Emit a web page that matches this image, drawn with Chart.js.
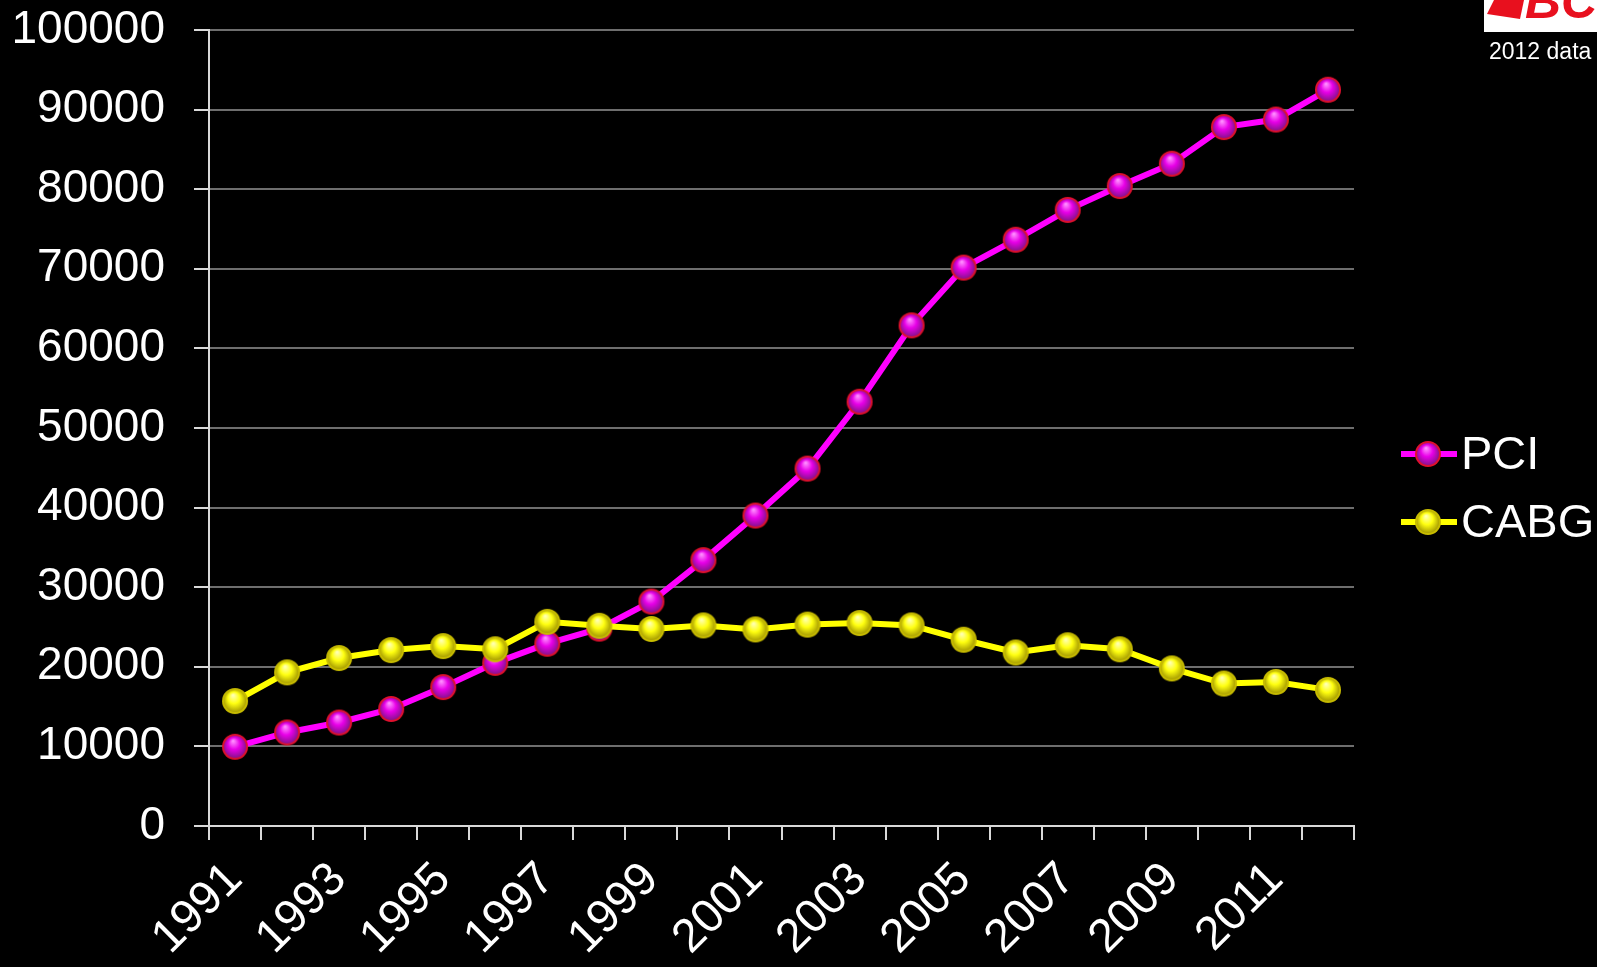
<!DOCTYPE html>
<html>
<head>
<meta charset="utf-8">
<title>PCI vs CABG</title>
<script src="https://cdn.jsdelivr.net/npm/chart.js@4.4.0/dist/chart.umd.min.js"></script>
<style>
  html, body { margin: 0; padding: 0; background: #000; }
  #wrap { width: 1597px; height: 967px; position: relative; }
</style>
</head>
<body>
<div id="wrap"><canvas id="chart" width="1597" height="967"></canvas></div>
<script>
// data
const years = ['1991', '1992', '1993', '1994', '1995', '1996', '1997', '1998', '1999', '2000', '2001',
  '2002', '2003', '2004', '2005', '2006', '2007', '2008', '2009', '2010', '2011', '2012'];
const pciValues = [9950, 11750, 13000, 14700, 17450, 20500, 22900, 24800, 28200, 33400, 39000,
  44900, 53300, 62900, 70150, 73650, 77400, 80400, 83200, 87800, 88750, 92500];
const cabgValues = [15700, 19300, 21100, 22100, 22600, 22200, 25650, 25150, 24750, 25200, 24700,
  25300, 25500, 25200, 23400, 21800, 22700, 22200, 19800, 17900, 18100, 17100];
const seriesNames = ['PCI', 'CABG'];
const yMin = 0;
const yMax = 100000;
const yStep = 10000;
const noteText = '2012 data';
const logoText = 'BCIS';

const FONT = '"Liberation Sans", Arial, sans-serif';

// shaded ball used as the point marker
function makeBall(r, rim, light, mid, dark) {
  const c = document.createElement('canvas');
  const size = r * 2 + 4;
  c.width = size;
  c.height = size;
  const g = c.getContext('2d');
  const cx = size / 2, cy = size / 2;
  g.beginPath();
  g.arc(cx, cy, r, 0, Math.PI * 2);
  g.fillStyle = rim;
  g.fill();
  const grad = g.createRadialGradient(cx - r * 0.15, cy - r * 0.45, r * 0.05, cx, cy, r * 0.95);
  grad.addColorStop(0, light);
  grad.addColorStop(0.45, mid);
  grad.addColorStop(1, dark);
  g.beginPath();
  g.arc(cx, cy, r - 2, 0, Math.PI * 2);
  g.fillStyle = grad;
  g.fill();
  return c;
}

const pciBall = makeBall(13, '#e0102e', '#ff8cff', '#e800e8', '#7a1580');
const cabgBall = makeBall(13, '#c8bc00', '#ffffb0', '#ffff10', '#9c9000');

const legendItems = [
  { label: seriesNames[0], color: '#ff00ff', ball: pciBall, y: 454 },
  { label: seriesNames[1], color: '#ffff00', ball: cabgBall, y: 522 }
];

const extrasPlugin = {
  id: 'extras',
  afterDraw(chart) {
    const ctx = chart.ctx;
    ctx.save();
    // legend
    legendItems.forEach(item => {
      ctx.strokeStyle = item.color;
      ctx.lineWidth = 6;
      ctx.beginPath();
      ctx.moveTo(1401, item.y);
      ctx.lineTo(1457, item.y);
      ctx.stroke();
      ctx.drawImage(item.ball, 1428 - item.ball.width / 2, item.y - item.ball.height / 2);
      ctx.fillStyle = '#ffffff';
      ctx.font = '47px ' + FONT;
      ctx.textAlign = 'left';
      ctx.textBaseline = 'middle';
      ctx.fillText(item.label, 1461, item.y + 2);
    });

    // logo box, cut off by the page edge
    ctx.fillStyle = '#ffffff';
    ctx.fillRect(1484, 0, 113, 32);
    ctx.fillStyle = '#e8101e';
    ctx.beginPath();
    ctx.moveTo(1494, 0);
    ctx.lineTo(1524, 0);
    ctx.lineTo(1520, 19);
    ctx.lineTo(1487, 14);
    ctx.closePath();
    ctx.fill();
    ctx.font = 'italic bold 50px ' + FONT;
    ctx.textBaseline = 'alphabetic';
    ctx.fillText(logoText, 1525, 18);

    ctx.fillStyle = '#ffffff';
    ctx.font = '23px ' + FONT;
    ctx.fillText(noteText, 1489, 59);
    ctx.restore();
  }
};

new Chart(document.getElementById('chart').getContext('2d'), {
  type: 'line',
  data: {
    labels: years,
    datasets: [
      {
        label: seriesNames[0],
        data: pciValues,
        borderColor: '#ff00ff',
        borderWidth: 6,
        pointStyle: pciBall,
        order: 1
      },
      {
        label: seriesNames[1],
        data: cabgValues,
        borderColor: '#ffff00',
        borderWidth: 6,
        pointStyle: cabgBall,
        order: 0
      }
    ]
  },
  options: {
    responsive: false,
    animation: false,
    layout: { padding: { top: 30, right: 243, bottom: 0, left: 0 } },
    plugins: {
      legend: { display: false },
      tooltip: { enabled: false }
    },
    scales: {
      x: {
        offset: true,
        grid: {
          offset: true,
          drawOnChartArea: false,
          color: '#d9d9d9',
          lineWidth: 2,
          tickLength: 14
        },
        border: { color: '#d9d9d9', width: 2 },
        ticks: {
          autoSkip: false,
          maxRotation: 45,
          minRotation: 45,
          padding: 12,
          color: '#ffffff',
          font: { family: FONT, size: 47 },
          callback: (v, i) => (i % 2 === 0 ? years[i] : '')
        },
        afterFit: s => { s.height = 141; }
      },
      y: {
        min: yMin,
        max: yMax,
        grid: {
          color: '#6e6e6e',
          lineWidth: 2,
          tickLength: 15,
          tickColor: '#d9d9d9'
        },
        border: { color: '#d9d9d9', width: 2 },
        ticks: {
          stepSize: yStep,
          padding: 29,
          color: '#ffffff',
          font: { family: FONT, size: 46 },
          callback: v => String(v)
        },
        afterFit: s => {
          s.width = 209;
          s.paddingTop = 0;
          s.paddingBottom = 0;
        }
      }
    }
  },
  plugins: [extrasPlugin]
});
</script>
</body>
</html>
